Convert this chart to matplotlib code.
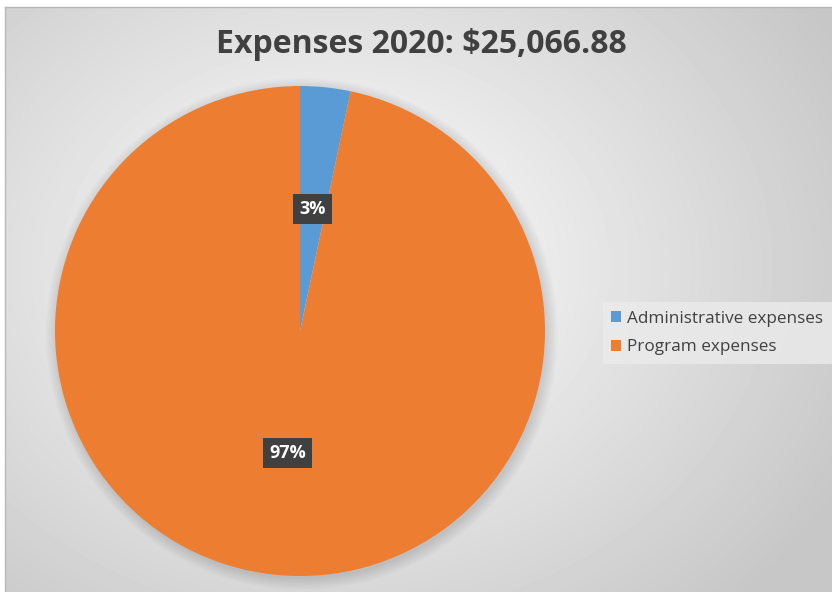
import matplotlib.pyplot as plt
import numpy as np

plt.rcParams['font.family'] = ['Open Sans', 'DejaVu Sans']

title = "Expenses 2020: $25,066.88"
categories = ["Administrative expenses", "Program expenses"]
values = [830.00, 24236.88]
colors = ["#5B9BD5", "#ED7D31"]

W, H = 832, 592
fig = plt.figure(figsize=(W / 100, H / 100), dpi=100)

# radial gradient background inside the chart frame
bg = fig.add_axes([5 / W, 0, (W - 5) / W, (H - 7) / H])
yy, xx = np.mgrid[0:585, 0:827]
d = np.hypot((xx - 330) / 520, (yy - 260) / 420)
shade = np.clip(1.0 - 0.2 * d, 0.78, 1.0)
bg.imshow(shade, cmap="gray", vmin=0, vmax=1, aspect="auto", interpolation="bilinear")
bg.axis("off")
fig.add_artist(plt.Line2D([5 / W, 5 / W], [0, (H - 7) / H], color="#b8b8b8", lw=1))
fig.add_artist(plt.Line2D([5 / W, 1], [(H - 7) / H, (H - 7) / H], color="#b8b8b8", lw=1))

cx, cy, r = 300, 331, 245
ax = fig.add_axes([(cx - r) / W, (H - cy - r) / H, 2 * r / W, 2 * r / H])
ax.axis("off")

# soft shadow under the pie
for k in range(10):
    ax.add_patch(plt.Circle((0.008, -0.012), 1.0 + 0.005 * k, color="black",
                            alpha=0.012, zorder=0, lw=0, clip_on=False))

wedges, texts, autotexts = ax.pie(
    values, colors=colors, startangle=90, counterclock=False,
    autopct=lambda p: f"{p:.0f}%", pctdistance=0.5,
    wedgeprops=dict(linewidth=0, clip_on=False), radius=1.0,
)
ax.set_xlim(-1, 1)
ax.set_ylim(-1, 1)
ax.set_aspect("equal")
for t in autotexts:
    t.set_color("white")
    t.set_fontsize(13)
    t.set_fontweight("bold")
    t.set_bbox(dict(boxstyle="square,pad=0.35", fc="#404040", ec="none"))
    t.set_zorder(5)

fig.text(0.506, 0.925, title, ha="center", va="center", fontsize=23,
         fontweight="bold", color="#404040")

leg = fig.legend(wedges, categories, loc="center left",
                 bbox_to_anchor=(594 / W, (H - 333) / H), frameon=True,
                 fontsize=12.3, handlelength=0.6, handleheight=0.6,
                 handletextpad=0.35, labelspacing=0.75, borderpad=0.5)
leg.get_frame().set_facecolor("#ebebeb")
leg.get_frame().set_edgecolor("none")
leg.get_frame().set_alpha(0.8)
leg.get_frame().set_boxstyle("square", pad=0)
for t in leg.get_texts():
    t.set_color("#404040")

fig.savefig("out.png", dpi=100)
